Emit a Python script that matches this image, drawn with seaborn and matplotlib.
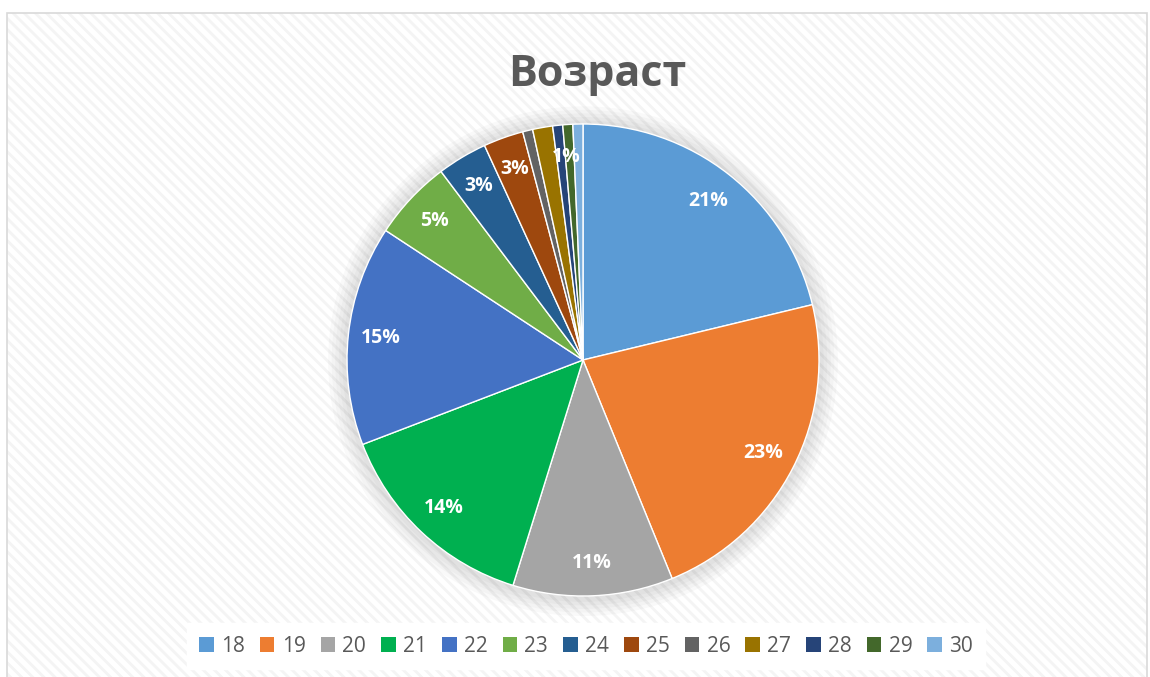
import matplotlib
matplotlib.use("Agg")
import matplotlib.pyplot as plt
from matplotlib.patches import Rectangle, Circle, Patch
import seaborn as sns

# Data
ages = ["18", "19", "20", "21", "22", "23", "24", "25", "26", "27", "28", "29", "30"]
counts = [31, 33, 16, 21, 22, 8, 5, 4, 1, 2, 1, 1, 1]
colors = ["#5B9BD5", "#ED7D31", "#A5A5A5", "#00B050", "#4472C4", "#70AD47",
          "#255E91", "#9E480E", "#636363", "#997300", "#264478", "#43682B", "#7CAFDD"]
title = "Возраст"

sns.set_theme(style="white")
plt.rcParams['font.family'] = ['Open Sans', 'DejaVu Sans']
plt.rcParams['hatch.linewidth'] = 2.0

W, H = 1150, 677
fig = plt.figure(figsize=(W / 100, H / 100), dpi=100)
fig.patch.set_facecolor("white")

# chart area with diagonal hatched background
bg = Rectangle((7 / W, -0.05), (1147 - 7) / W, (H - 13) / H + 0.05,
               transform=fig.transFigure, facecolor="white",
               edgecolor="#F4F4F4", hatch="\\\\\\", linewidth=0, zorder=-5)
fig.patches.append(bg)
border = Rectangle((7 / W, -0.05), (1147 - 7) / W, (H - 13) / H + 0.05,
                   transform=fig.transFigure, facecolor="none",
                   edgecolor="#D9D9D9", linewidth=1.2, zorder=-4)
fig.patches.append(border)

cx, cy, R = 583, 360, 236
ax = fig.add_axes([(cx - R) / W, (H - cy - R) / H, 2 * R / W, 2 * R / H])
ax.set_facecolor("none")
ax.set_zorder(2)

# soft shadow
for r in [1.08, 1.065, 1.05, 1.035, 1.02]:
    ax.add_patch(Circle((0, -0.005), r, facecolor="#000000", alpha=0.022,
                        edgecolor="none", zorder=0, clip_on=False))

wedges, texts, autotexts = ax.pie(
    counts, colors=colors, startangle=90, counterclock=False,
    autopct=lambda p: f"{p:.0f}%" if p > 1 else "",
    pctdistance=0.86, radius=1.0,
    wedgeprops=dict(edgecolor="white", linewidth=1.0),
    textprops=dict(color="white", fontsize=14, fontweight="bold"))
for t in autotexts:
    t.set_zorder(5)
# keep the small "1%" label clear of neighbouring slices (as in the reference)
autotexts[9].set_position((-0.07, 0.86))
ax.set_xlim(-1, 1)
ax.set_ylim(-1, 1)
ax.set_aspect("equal")
ax.axis("off")

fig.text(597 / W, 1 - 74 / H, title, ha="center", va="center",
         fontsize=31, fontweight="bold", color="#595959")

handles = [Patch(facecolor=c, edgecolor="none") for c in colors]
leg = fig.legend(handles, ages, loc="center", bbox_to_anchor=(586 / W, 1 - 646 / H),
                 ncol=len(ages), frameon=True, fontsize=15, handlelength=0.7,
                 handleheight=0.7, handletextpad=0.35, columnspacing=0.72,
                 borderpad=0.6, fancybox=False)
leg.get_frame().set_facecolor("white")
leg.get_frame().set_edgecolor("white")
leg.get_frame().set_alpha(1)
leg.set_zorder(3)
for t in leg.get_texts():
    t.set_color("#595959")

fig.savefig("out.png", dpi=100)
